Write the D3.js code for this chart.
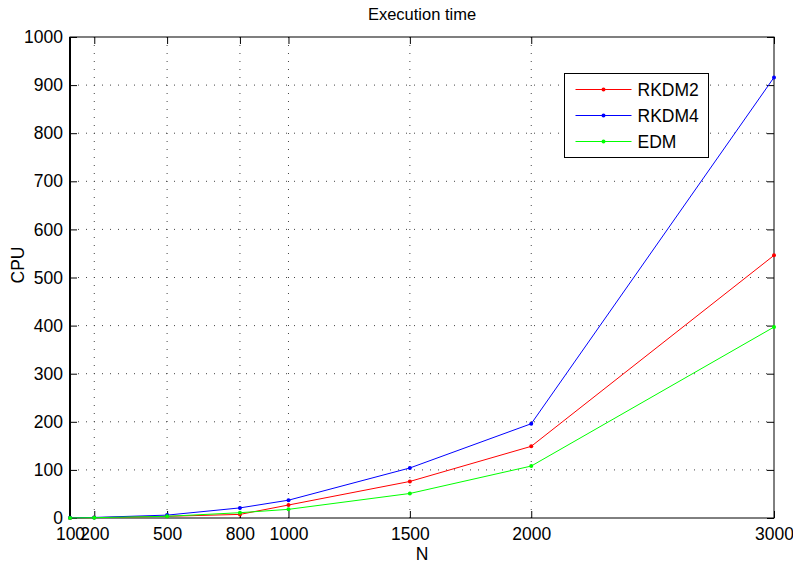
<!DOCTYPE html>
<html>
<head>
<meta charset="utf-8">
<script src="https://cdn.jsdelivr.net/npm/d3@7"></script>
<style>
  body { margin: 0; background: #fff; }
  svg text { font-family: "Liberation Sans", Arial, Helvetica, sans-serif; fill: #000; }
</style>
</head>
<body>
<div id="chart"></div>
<script>
// values
const sizes = [100, 200, 500, 800, 1000, 1500, 2000, 3000];
const rkdm2 = [0.2, 0.8, 3.5, 7.5, 27, 76, 149, 546];
const rkdm4 = [0.3, 1.2, 6, 21, 37, 104, 196, 916];
const edm = [0.2, 0.7, 3.5, 11, 18, 51, 108, 397];
const yTicks = [0, 100, 200, 300, 400, 500, 600, 700, 800, 900, 1000];
const seriesNames = ["RKDM2", "RKDM4", "EDM"];
const seriesColors = ["#ff0000", "#0000ff", "#00ff00"];

const W = 793, H = 563;
const margin = {top: 37, right: 19, bottom: 45, left: 70};
const width = W - margin.left - margin.right,
	height = H - margin.top - margin.bottom;

const svg = d3.select('#chart').append('svg')
	.attr('width', W)
	.attr('height', H);

const g = svg.append('g')
	.attr('transform', `translate(${margin.left}, ${margin.top})`);

const xScale = d3.scaleLinear()
	.domain([100, 3000])
	.range([0, width]);

const yScale = d3.scaleLinear()
	.domain([0, 1000])
	.range([height, 0]);

// dotted grid
g.append('g').selectAll('line')
	.data(sizes.slice(1, -1))
	.join('line')
	.attr('x1', d => xScale(d)).attr('x2', d => xScale(d))
	.attr('y1', 0).attr('y2', height)
	.attr('stroke', '#444').attr('stroke-width', 1)
	.attr('stroke-dasharray', '1,7');

g.append('g').selectAll('line')
	.data(yTicks.slice(1, -1))
	.join('line')
	.attr('y1', d => yScale(d)).attr('y2', d => yScale(d))
	.attr('x1', 0).attr('x2', width)
	.attr('stroke', '#444').attr('stroke-width', 1)
	.attr('stroke-dasharray', '1,7');

// axes, ticks pointing inward on all four sides
const fontSize = '17.5px';
const fmt = d3.format('d');
const xAxis = d3.axisBottom(xScale).tickValues(sizes).tickFormat(fmt).tickSize(-7).tickSizeOuter(0).tickPadding(10);
const yAxis = d3.axisLeft(yScale).tickValues(yTicks).tickFormat(fmt).tickSize(-7).tickSizeOuter(0).tickPadding(7);

const xAxisGroup = g.append('g')
	.attr('class', 'axis x-axis')
	.attr('transform', `translate(0, ${height})`)
	.call(xAxis);

const yAxisGroup = g.append('g')
	.attr('class', 'axis y-axis')
	.call(yAxis);

g.append('g')
	.call(d3.axisTop(xScale).tickValues(sizes).tickSize(-7).tickSizeOuter(0).tickFormat(''));
g.append('g')
	.attr('transform', `translate(${width}, 0)`)
	.call(d3.axisRight(yScale).tickValues(yTicks).tickSize(-7).tickSizeOuter(0).tickFormat(''));

g.selectAll('.domain').remove();
g.selectAll('.tick line').attr('stroke', '#000');
xAxisGroup.selectAll('text').style('font-size', fontSize);
yAxisGroup.selectAll('text').style('font-size', fontSize);

// box
g.append('rect')
	.attr('width', width).attr('height', height)
	.attr('fill', 'none').attr('stroke', '#000').attr('stroke-width', 1);
g.append('line')
	.attr('x1', 0).attr('x2', 0).attr('y1', 0).attr('y2', height)
	.attr('stroke', '#000').attr('stroke-width', 2);

// series
const seriesData = [rkdm2, rkdm4, edm];
const line = d3.line()
	.x((d, i) => xScale(sizes[i]))
	.y(d => yScale(d));

seriesData.forEach((vals, k) => {
	g.append('path')
		.datum(vals)
		.attr('d', line)
		.attr('fill', 'none')
		.attr('stroke', seriesColors[k])
		.attr('stroke-width', 1);
	g.append('g').selectAll('circle')
		.data(vals)
		.join('circle')
		.attr('cx', (d, i) => xScale(sizes[i]))
		.attr('cy', d => yScale(d))
		.attr('r', 2)
		.attr('fill', seriesColors[k]);
});

// legend
const legend = svg.append('g').attr('transform', 'translate(564.5, 73.5)');
legend.append('rect')
	.attr('width', 144).attr('height', 84)
	.attr('fill', '#fff').attr('stroke', '#000').attr('stroke-width', 1);
seriesNames.forEach((name, k) => {
	const y = 16 + k * 26;
	legend.append('line')
		.attr('x1', 11).attr('x2', 67).attr('y1', y).attr('y2', y)
		.attr('stroke', seriesColors[k]).attr('stroke-width', 1);
	legend.append('circle')
		.attr('cx', 39).attr('cy', y).attr('r', 2)
		.attr('fill', seriesColors[k]);
	legend.append('text')
		.attr('x', 73).attr('y', y + 6)
		.style('font-size', fontSize)
		.text(name);
});

// titles
svg.append('text')
	.attr('x', margin.left + width / 2).attr('y', 20)
	.attr('text-anchor', 'middle')
	.style('font-size', '16.5px')
	.text('Execution time');

svg.append('text')
	.attr('x', margin.left + width / 2).attr('y', 560)
	.attr('text-anchor', 'middle')
	.style('font-size', fontSize)
	.text('N');

svg.append('text')
	.attr('transform', 'translate(24, 265) rotate(-90)')
	.attr('text-anchor', 'middle')
	.style('font-size', fontSize)
	.text('CPU');
</script>
</body>
</html>
